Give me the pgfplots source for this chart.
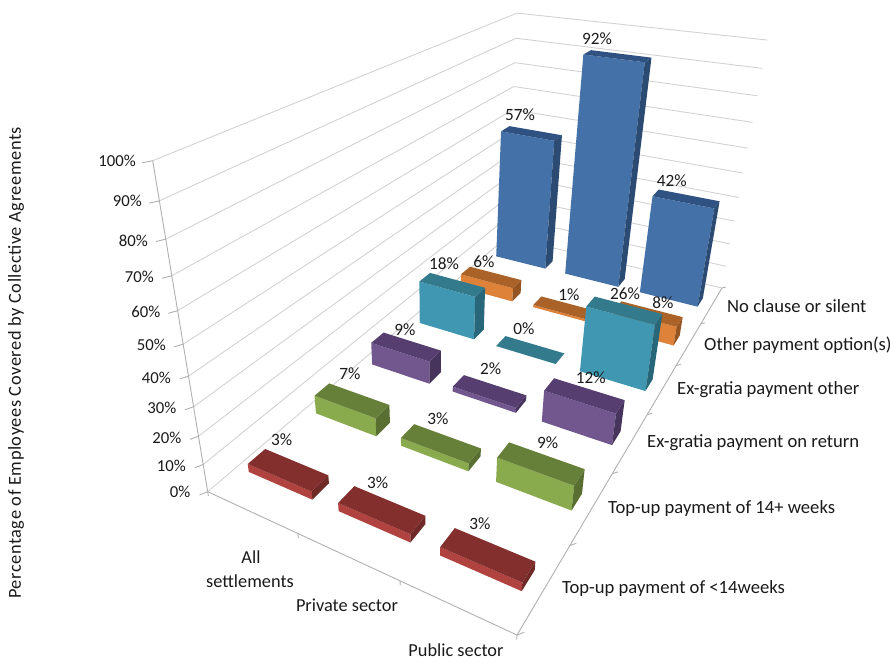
\documentclass[border=0pt]{standalone}
\usepackage{pgfplots}
\pgfplotsset{compat=1.18}
\usepackage{fontspec}
\setmainfont{Carlito}
% colours: front, top, side
\definecolor{bF}{HTML}{4472A8}\definecolor{bT}{HTML}{2F5282}\definecolor{bS}{HTML}{2B4B73}
\definecolor{oF}{HTML}{DD8238}\definecolor{oT}{HTML}{AA6229}\definecolor{oS}{HTML}{945522}
\definecolor{cF}{HTML}{3F97B2}\definecolor{cT}{HTML}{337A8C}\definecolor{cS}{HTML}{28677A}
\definecolor{pF}{HTML}{72578F}\definecolor{pT}{HTML}{563F70}\definecolor{pS}{HTML}{46345C}
\definecolor{gF}{HTML}{8AAA4E}\definecolor{gT}{HTML}{667F39}\definecolor{gS}{HTML}{586F31}
\definecolor{rF}{HTML}{B0423F}\definecolor{rT}{HTML}{832F2E}\definecolor{rS}{HTML}{6F2A28}
\definecolor{gridc}{HTML}{D2D2D2}
\definecolor{axisc}{HTML}{B0B0B0}
\definecolor{txt}{HTML}{1A1A1A}
% camera: (u,v,t) in the unit cube -> picture pixels
\newcommand\proj[4]{%
  \pgfmathsetmacro\pW{1-0.17676*(#1)+0.60714*(#2)-0.1955*(#3)}%
  \pgfmathsetmacro\pX{(217.92*(#1)+607.12*(#2)-84.85*(#3)+207.7)/\pW}%
  \pgfmathsetmacro\pY{(31.06*(#1)-110.81*(#2)-362.42*(#3)+491.7)/\pW}%
  \expandafter\edef\csname #4\endcsname{(\pX,\pY)}}
\newcommand\seg[7]{% line between two model points
  \proj{#1}{#2}{#3}{sA}\proj{#4}{#5}{#6}{sB}%
  \edef\tmp{\noexpand\addplot[#7] coordinates {\sA \sB};}\tmp}
% \DrawBar{category 0-2}{series 0-5}{percent}{colour prefix}
\newcommand\DrawBar[4]{%
  \pgfmathsetmacro\uA{(#1+0.5)/3-0.12}\pgfmathsetmacro\uB{(#1+0.5)/3+0.12}%
  \pgfmathsetmacro\vA{(#2+0.5)/6-0.02}\pgfmathsetmacro\vB{(#2+0.5)/6+0.02}%
  \pgfmathsetmacro\tT{#3/100}%
  \proj{\uA}{\vA}{0}{Pa}\proj{\uB}{\vA}{0}{Pb}\proj{\uB}{\vB}{0}{Pc}%
  \proj{\uA}{\vA}{\tT}{Qa}\proj{\uB}{\vA}{\tT}{Qb}\proj{\uB}{\vB}{\tT}{Qc}\proj{\uA}{\vB}{\tT}{Qd}%
  \edef\tmp{\noexpand\addplot[draw=none,fill=#4F] coordinates {\Pa \Pb \Qb \Qa} -- cycle;}\tmp
  \edef\tmp{\noexpand\addplot[draw=none,fill=#4S] coordinates {\Pb \Pc \Qc \Qb} -- cycle;}\tmp
  \edef\tmp{\noexpand\addplot[draw=none,fill=#4T] coordinates {\Qa \Qb \Qc \Qd} -- cycle;}\tmp
}
\newcommand\lab[3]{\node[font=\fontsize{17.3}{17.3}\selectfont,text=txt,inner sep=0pt] at (#1,#2) {#3};}
\newcommand\ztl[3]{\node[font=\fontsize{16.8}{16.8}\selectfont,text=txt,inner sep=0pt,anchor=east] at (#1,#2) {#3};}
\newcommand\axl[3]{\node[font=\fontsize{18.7}{18.7}\selectfont,text=txt,inner sep=0pt,anchor=west] at (#1,#2) {#3};}
\begin{document}
\begin{tikzpicture}[x=1bp,y=1bp]
\useasboundingbox (0,0) rectangle (890bp,659bp);
\begin{axis}[at={(0,0)},anchor=south west,scale only axis,width=890bp,height=659bp,
  xmin=0,xmax=890,ymin=0,ymax=659,y dir=reverse,hide axis,clip=false]
% walls
\pgfplotsforeachungrouped \t in {0,0.1,0.2,0.3,0.4,0.5,0.6,0.7,0.8,0.9,1}{%
  \seg{0}{0}{\t}{0}{1}{\t}{draw=gridc,line width=0.9bp}
  \seg{0}{1}{\t}{1}{1}{\t}{draw=gridc,line width=0.9bp}
  \seg{-0.011}{-0.011}{\t}{0}{0}{\t}{draw=axisc,line width=0.9bp}
}
\seg{0}{0}{0}{0}{0}{1}{draw=axisc,line width=0.9bp}
\seg{0}{0}{0}{1}{0}{0}{draw=axisc,line width=0.9bp}
\seg{1}{0}{0}{1}{1}{0}{draw=axisc,line width=0.9bp}
\pgfplotsforeachungrouped \c in {0,0.33333,0.66667,1}{%
  \seg{\c}{0}{0}{\c}{0}{-0.016}{draw=axisc,line width=0.9bp}
}
\pgfplotsforeachungrouped \c in {0,0.16667,0.33333,0.5,0.66667,0.83333,1}{%
  \proj{1.012}{\c+0.008}{0}{tE}%
  \proj{1}{\c}{0}{tS}%
  \edef\tmp{\noexpand\addplot[draw=axisc,line width=0.9bp] coordinates {\tS \tE};}\tmp
}
% bars, back to front
\DrawBar{0}{5}{57}{b}\DrawBar{1}{5}{92}{b}\DrawBar{2}{5}{42}{b}
\DrawBar{0}{4}{6}{o}\DrawBar{1}{4}{1}{o}\DrawBar{2}{4}{8}{o}
\DrawBar{0}{3}{18}{c}\DrawBar{1}{3}{0}{c}\DrawBar{2}{3}{26}{c}
\DrawBar{0}{2}{9}{p}\DrawBar{1}{2}{2}{p}\DrawBar{2}{2}{12}{p}
\DrawBar{0}{1}{7}{g}\DrawBar{1}{1}{3}{g}\DrawBar{2}{1}{9}{g}
\DrawBar{0}{0}{3}{r}\DrawBar{1}{0}{3}{r}\DrawBar{2}{0}{3}{r}
% data labels
\lab{520}{115}{57\%}\lab{597}{38.5}{92\%}\lab{671.7}{181}{42\%}
\lab{484}{262}{6\%}\lab{569}{295}{1\%}\lab{663}{303}{8\%}
\lab{444}{264}{18\%}\lab{524}{329}{0\%}\lab{625}{294}{26\%}
\lab{405}{330}{9\%}\lab{490.7}{369}{2\%}\lab{590.7}{378}{12\%}
\lab{350}{374}{7\%}\lab{438}{419}{3\%}\lab{547.7}{442.7}{9\%}
\lab{281.7}{440}{3\%}\lab{377.7}{483}{3\%}\lab{480}{524}{3\%}
% value axis labels
\ztl{136}{161}{100\%}\ztl{142}{201}{90\%}\ztl{148}{241}{80\%}\ztl{154}{277}{70\%}
\ztl{160.5}{312}{60\%}\ztl{166}{345}{50\%}\ztl{171}{378}{40\%}\ztl{176.5}{407.5}{30\%}
\ztl{181.5}{437.5}{20\%}\ztl{186}{465.5}{10\%}\ztl{190.5}{492}{0\%}
% series labels
\axl{727}{306}{No clause or silent}
\axl{704}{345}{Other payment option(s)}
\axl{677}{390}{Ex-gratia payment other}
\axl{647}{443}{Ex-gratia payment on return}
\axl{608}{509}{Top-up payment of 14+ weeks}
\axl{562}{589}{Top-up payment of <14weeks}
% category labels
\node[font=\fontsize{18.4}{18.4}\selectfont,text=txt,inner sep=0pt] at (251,557) {All};
\node[font=\fontsize{18.4}{18.4}\selectfont,text=txt,inner sep=0pt] at (250,581) {settlements};
\node[font=\fontsize{18.4}{18.4}\selectfont,text=txt,inner sep=0pt] at (347,605) {Private sector};
\node[font=\fontsize{18.4}{18.4}\selectfont,text=txt,inner sep=0pt,anchor=base] at (456,656.5) {Public sector};
\node[font=\fontsize{18.4}{18.4}\selectfont\addfontfeature{LetterSpace=3},text=txt,inner sep=0pt,rotate=90] at (16,363) {Percentage of Employees Covered by Collective Agreements};
\end{axis}
\end{tikzpicture}
\end{document}
